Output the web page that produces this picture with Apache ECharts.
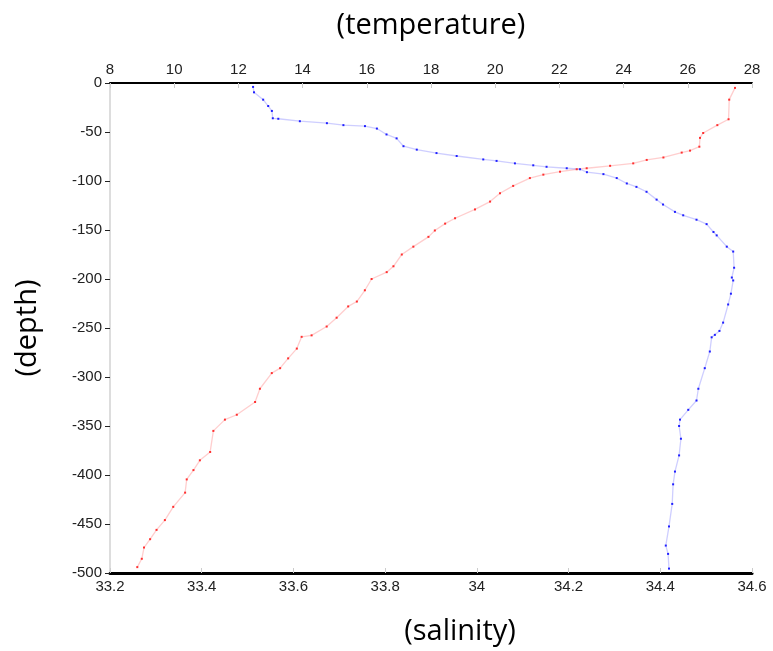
<!DOCTYPE html>
<html lang="en">
<head>
<meta charset="UTF-8">
<title>depth profile</title>
<style>
    * { margin: 0; padding: 0; }
    #chart { width: 773px; height: 651px; background: #fff; }
</style>
<script src="https://cdn.jsdelivr.net/npm/echarts@6/dist/echarts.min.js"></script>
</head>
<body>
<div id="chart"></div>
<script>
// temperature profile (top axis)
var tempValues = [27.47, 27.29, 27.27, 26.92, 26.48, 26.38, 26.36, 26.07, 25.81, 25.24,
    24.72, 24.30, 23.58, 22.85, 22.54, 22.02, 21.50, 21.08, 20.56, 20.15,
    19.84, 19.37, 18.75, 18.44, 18.12, 17.92, 17.45, 17.09, 16.83, 16.62,
    16.15, 15.94, 15.69, 15.42, 15.06, 14.75, 14.28, 13.97, 13.82, 13.55,
    13.30, 13.04, 12.67, 12.52, 11.95, 11.58, 11.22, 11.12, 10.80, 10.60,
    10.39, 10.34, 9.97, 9.71, 9.45, 9.25, 9.06, 8.99, 8.85];
var tempDepth = [-5, -17, -37, -43, -51, -56, -65, -69, -71, -76,
    -78.5, -82, -84.5, -87, -88, -90.5, -93.5, -97, -105, -112.5,
    -121, -129, -138, -143.5, -150.5, -157, -167, -175, -187, -193,
    -200, -211.5, -223, -228, -239.5, -248.5, -257.5, -259, -271, -281,
    -291, -296, -312, -325.5, -338.5, -343.5, -355, -376.5, -385, -395,
    -404.5, -418, -432.5, -446, -456, -465.5, -474, -485.5, -494];

// salinity profile (bottom axis)
var salValues = [33.512, 33.514, 33.534, 33.545, 33.553, 33.555, 33.567, 33.614, 33.673, 33.709,
    33.756, 33.782, 33.803, 33.825, 33.840, 33.869, 33.912, 33.956, 34.014, 34.043,
    34.083, 34.123, 34.152, 34.196, 34.225, 34.240, 34.276, 34.305, 34.327, 34.348,
    34.370, 34.392, 34.406, 34.432, 34.450, 34.479, 34.501, 34.516, 34.523, 34.545,
    34.559, 34.561, 34.556, 34.559, 34.554, 34.548, 34.537, 34.529, 34.519, 34.512,
    34.508, 34.497, 34.483, 34.479, 34.461, 34.443, 34.441, 34.445, 34.441, 34.432,
    34.428, 34.426, 34.419, 34.412, 34.417, 34.419];
var salDepth = [-4, -9.5, -17, -23.5, -28.5, -36, -36.5, -39, -41, -43,
    -44, -46.5, -52.5, -56.5, -64.5, -68, -71.5, -74.5, -78, -79.5,
    -82, -84, -85.5, -87, -88, -91, -93, -97, -102.5, -106,
    -111, -119, -124, -131.5, -135, -139.5, -144, -152, -155.5, -167,
    -172, -188.5, -198.5, -201.5, -215, -226, -244.5, -253, -257, -259.5,
    -274, -291, -312, -324, -333.5, -343.5, -350, -363, -380, -396.5,
    -409.5, -429.5, -452.5, -472, -480.5, -495.5];

var tempTicks = [8, 28, 2];
var salTicks = [33.2, 34.6, 0.2];
var depthTicks = [-500, 0, 50];

function zip(xs, ys) {
    var out = [];
    for (var i = 0; i < xs.length; i++) out.push([xs[i], ys[i]]);
    return out;
}

var labelFont = { color: '#222', fontSize: 15, fontFamily: 'Liberation Sans' };
var nameFont = { color: '#000', fontSize: 29, fontFamily: 'Open Sans' };

var chart = echarts.init(document.getElementById('chart'));
chart.setOption({
    animation: false,
    grid: { left: 110, right: 21, top: 83, bottom: 63 },
    xAxis: [{
        type: 'value',
        position: 'top',
        min: tempTicks[0], max: tempTicks[1], interval: tempTicks[2],
        name: '(temperature)',
        nameLocation: 'middle',
        nameGap: 43,
        nameTextStyle: nameFont,
        axisLine: { onZero: false, lineStyle: { color: '#000', width: 2 } },
        axisTick: { inside: true, length: 5, lineStyle: { color: '#ccc' } },
        axisLabel: Object.assign({ margin: 6 }, labelFont),
        splitLine: { show: false }
    }, {
        type: 'value',
        position: 'bottom',
        min: salTicks[0], max: salTicks[1], interval: salTicks[2],
        name: '(salinity)',
        nameLocation: 'middle',
        nameGap: 44,
        nameTextStyle: Object.assign({ padding: [0, 0, 0, 58] }, nameFont),
        axisLine: { onZero: false, lineStyle: { color: '#000', width: 3 } },
        axisTick: { inside: true, length: 5, lineStyle: { color: '#ccc' } },
        axisLabel: Object.assign({ margin: 6 }, labelFont),
        splitLine: { show: false }
    }],
    yAxis: {
        type: 'value',
        min: depthTicks[0], max: depthTicks[1], interval: depthTicks[2],
        name: '(depth)',
        nameLocation: 'middle',
        nameGap: 68,
        nameRotate: 90,
        nameTextStyle: nameFont,
        axisLine: { onZero: false, lineStyle: { color: '#ddd', width: 2 } },
        axisTick: { length: 5, lineStyle: { color: '#222' } },
        axisLabel: Object.assign({ margin: 8 }, labelFont),
        splitLine: { show: false }
    },
    series: [{
        type: 'line',
        xAxisIndex: 0,
        data: zip(tempValues, tempDepth),
        showSymbol: true,
        showAllSymbol: true,
        symbol: 'rect',
        symbolSize: 2,
        itemStyle: { color: '#ff3030' },
        lineStyle: { color: 'rgba(255, 60, 60, 0.25)', width: 1.3 }
    }, {
        type: 'line',
        xAxisIndex: 1,
        data: zip(salValues, salDepth),
        showSymbol: true,
        showAllSymbol: true,
        symbol: 'rect',
        symbolSize: 2,
        itemStyle: { color: '#2020ff' },
        lineStyle: { color: 'rgba(60, 60, 255, 0.25)', width: 1.3 }
    }]
});
</script>
</body>
</html>
